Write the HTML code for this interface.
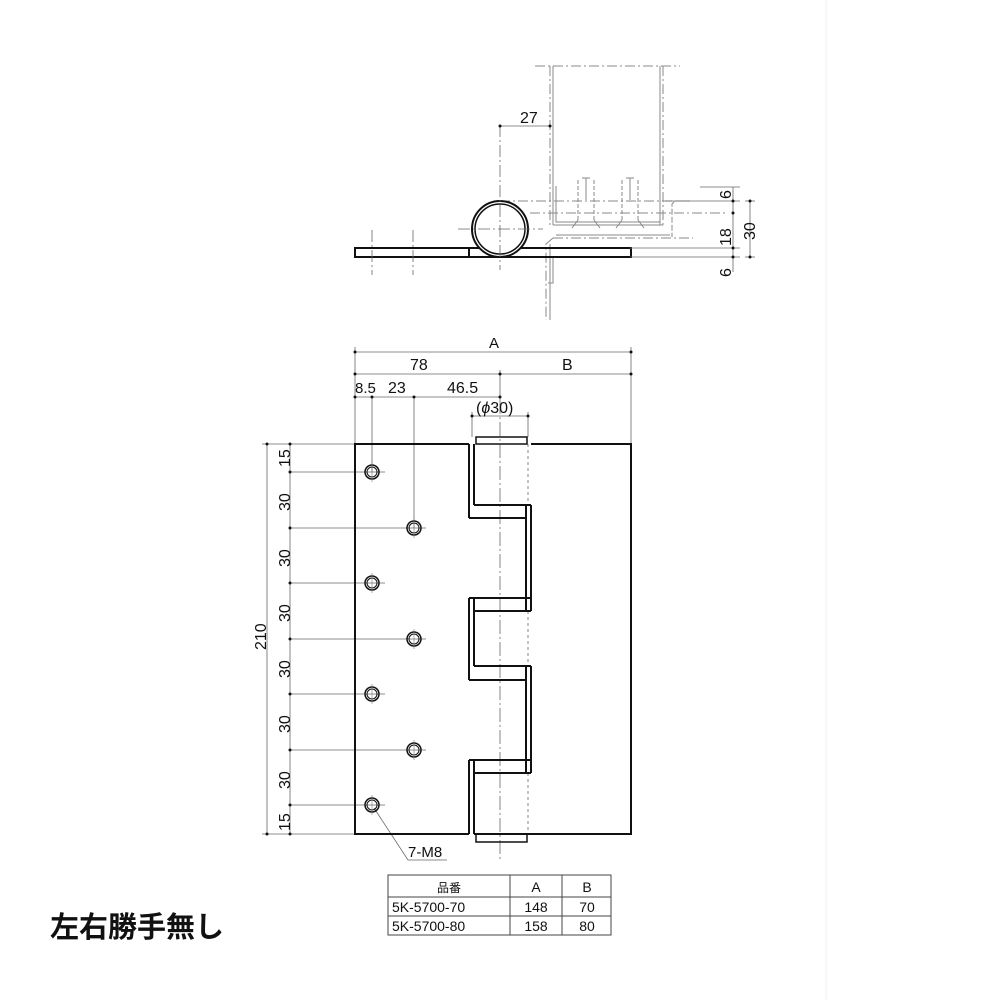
<!DOCTYPE html>
<html><head><meta charset="utf-8"><style>
html,body{margin:0;padding:0;background:#fff;}
svg{display:block;}
text{font-family:"Liberation Sans","Noto Sans CJK JP",sans-serif;fill:#111;}
</style></head><body>
<svg width="1000" height="1000" viewBox="0 0 1000 1000" xmlns="http://www.w3.org/2000/svg">
<rect width="1000" height="1000" fill="#fff"/>
<line x1="826" y1="0" x2="826" y2="1000" stroke="#f2f2f2" stroke-width="1"/>

<g fill="none" stroke="#888" stroke-width="1">
  <line x1="535" y1="66" x2="680" y2="66" stroke-dasharray="10,3,2,3"/>
  <line x1="550" y1="66" x2="550" y2="225" stroke-dasharray="10,3,2,3"/>
  <line x1="553" y1="66" x2="553" y2="225"/>
  <line x1="660" y1="66" x2="660" y2="225"/>
  <line x1="663" y1="66" x2="663" y2="225" stroke-dasharray="10,3,2,3"/>
  <path d="M553 225 L663 225"/>
  <path d="M556 186 L556 222 L660 222 L660 186" />
  <path d="M578 180 L578 220 M594 180 L594 220 M622 180 L622 220 M638 180 L638 220" stroke-dasharray="4,2"/>
  <path d="M582 178 L590 178 M586 178 L586 200 M626 178 L634 178 M630 178 L630 200"/>
  <path d="M578 220 L572 228 M594 220 L600 228 M622 220 L616 228 M638 220 L644 228"/>
  <line x1="500" y1="201" x2="690" y2="201" stroke-dasharray="10,3,2,3"/>
  <line x1="530" y1="213" x2="725" y2="213" stroke-dasharray="10,3,2,3"/>
  <path d="M690 201 L675 201 L672 204 L672 237" stroke-dasharray="6,2"/>
  <path d="M556 235 L670 235" />
  <path d="M553 238 L693 238" stroke-dasharray="10,3,2,3"/>
  <path d="M553 238 L546 244 L546 320" stroke-dasharray="10,3,2,3"/>
  <path d="M550 244 L550 320"/>
  <path d="M553 257 L553 283 L548 283"/>
</g>
<rect x="355" y="248" width="276" height="9" fill="none" stroke="#111" stroke-width="2"/>
<line x1="469" y1="248" x2="469" y2="257" stroke="#111" stroke-width="2"/>
<circle cx="500" cy="229" r="28" fill="#fff" stroke="#111" stroke-width="2"/>
<circle cx="500" cy="229" r="25" fill="none" stroke="#111" stroke-width="1.5"/>
<g stroke="#666" stroke-width="0.8" fill="none">
  <line x1="500" y1="125" x2="500" y2="270" stroke-dasharray="12,3,2,3"/>
  <line x1="458" y1="229" x2="543" y2="229" stroke-dasharray="12,3,2,3"/>
  <line x1="372" y1="230" x2="372" y2="275" stroke-dasharray="12,3,2,3"/>
  <line x1="413" y1="230" x2="413" y2="275" stroke-dasharray="12,3,2,3"/>
  <line x1="500" y1="126" x2="550" y2="126"/>
  <line x1="665" y1="201" x2="740" y2="201"/>
  <line x1="630" y1="248" x2="740" y2="248"/>
  <line x1="630" y1="257" x2="740" y2="257"/>
  <line x1="700" y1="187" x2="740" y2="187"/>
  <line x1="733" y1="187" x2="733" y2="272"/>
  <line x1="750" y1="201" x2="750" y2="257"/>
  <line x1="745" y1="201" x2="755" y2="201"/>
  <line x1="745" y1="257" x2="755" y2="257"/>
</g>
<g fill="#111">
  <circle cx="500" cy="126" r="1.5"/><circle cx="550" cy="126" r="1.5"/>
  <circle cx="733" cy="201" r="1.5"/><circle cx="733" cy="213" r="1.5"/>
  <circle cx="733" cy="248" r="1.5"/><circle cx="733" cy="257" r="1.5"/>
  <circle cx="750" cy="201" r="1.5"/><circle cx="750" cy="257" r="1.5"/>
</g>
<text x="520" y="123" font-size="16">27</text>
<text transform="translate(731,199) rotate(-90)" font-size="16">6</text>
<text transform="translate(731,246) rotate(-90)" font-size="16">18</text>
<text transform="translate(731,277) rotate(-90)" font-size="16">6</text>
<text transform="translate(755,240) rotate(-90)" font-size="16">30</text>

<g stroke="#666" stroke-width="0.8" fill="none">
  <line x1="355" y1="352" x2="631" y2="352"/>
  <line x1="355" y1="374" x2="631" y2="374"/>
  <line x1="355" y1="397" x2="500" y2="397"/>
  <line x1="472" y1="416" x2="528" y2="416"/>
  <line x1="355" y1="347" x2="355" y2="444"/>
  <line x1="631" y1="347" x2="631" y2="444"/>
  <line x1="500" y1="370" x2="500" y2="400"/>
  <line x1="372" y1="397" x2="372" y2="472"/>
  <line x1="414" y1="397" x2="414" y2="528"/>
  <line x1="472" y1="412" x2="472" y2="437"/>
  <line x1="528" y1="412" x2="528" y2="437"/>
  <line x1="267" y1="444" x2="267" y2="834"/>
  <line x1="290" y1="444" x2="290" y2="834"/>
  <line x1="262" y1="444" x2="355" y2="444"/>
  <line x1="262" y1="834" x2="355" y2="834"/>
  <line x1="290" y1="472" x2="385" y2="472"/>
  <line x1="290" y1="528" x2="426" y2="528"/>
  <line x1="290" y1="583" x2="385" y2="583"/>
  <line x1="290" y1="639" x2="426" y2="639"/>
  <line x1="290" y1="694" x2="385" y2="694"/>
  <line x1="290" y1="750" x2="426" y2="750"/>
  <line x1="290" y1="805" x2="385" y2="805"/>
  <line x1="500" y1="400" x2="500" y2="860" stroke-dasharray="14,3,2,3"/>
  <line x1="528" y1="444" x2="528" y2="505" stroke-dasharray="3,3"/>
  <line x1="528" y1="773" x2="528" y2="834" stroke-dasharray="3,3"/>
  <line x1="528" y1="611" x2="528" y2="666" stroke-dasharray="3,3"/>
  <path d="M374 808 L408 860 L447 860"/>
</g>
<g fill="#111">
  <circle cx="355" cy="352" r="1.5"/><circle cx="631" cy="352" r="1.5"/>
  <circle cx="355" cy="374" r="1.5"/><circle cx="500" cy="374" r="1.5"/><circle cx="631" cy="374" r="1.5"/>
  <circle cx="355" cy="397" r="1.5"/><circle cx="372" cy="397" r="1.5"/><circle cx="414" cy="397" r="1.5"/><circle cx="500" cy="397" r="1.5"/>
  <circle cx="472" cy="416" r="1.5"/><circle cx="528" cy="416" r="1.5"/>
  <circle cx="267" cy="444" r="1.5"/><circle cx="267" cy="834" r="1.5"/>
  <circle cx="290" cy="444" r="1.5"/><circle cx="290" cy="472" r="1.5"/><circle cx="290" cy="528" r="1.5"/><circle cx="290" cy="583" r="1.5"/><circle cx="290" cy="639" r="1.5"/><circle cx="290" cy="694" r="1.5"/><circle cx="290" cy="750" r="1.5"/><circle cx="290" cy="805" r="1.5"/><circle cx="290" cy="834" r="1.5"/>
</g>
<text x="489" y="348" font-size="15">A</text>
<text x="410" y="370" font-size="16">78</text>
<text x="562" y="370" font-size="16">B</text>
<text x="355" y="393" font-size="15">8.5</text>
<text x="388" y="393" font-size="16">23</text>
<text x="447" y="393" font-size="16">46.5</text>
<text x="476" y="413" font-size="16">(<tspan font-style="italic">ϕ</tspan>30)</text>
<text transform="translate(266,650) rotate(-90)" font-size="16">210</text>
<g font-size="16">
  <text transform="translate(290,467) rotate(-90)">15</text>
  <text transform="translate(290,511) rotate(-90)">30</text>
  <text transform="translate(290,567) rotate(-90)">30</text>
  <text transform="translate(290,622) rotate(-90)">30</text>
  <text transform="translate(290,678) rotate(-90)">30</text>
  <text transform="translate(290,733) rotate(-90)">30</text>
  <text transform="translate(290,789) rotate(-90)">30</text>
  <text transform="translate(290,831) rotate(-90)">15</text>
</g>
<text x="408" y="857" font-size="15">7-M8</text>

<g fill="none" stroke="#111" stroke-width="2">
  <rect x="476" y="437" width="51" height="7" stroke-width="1.5"/>
  <rect x="476" y="834" width="51" height="8" stroke-width="1.5"/>
  <polyline points="469,444 355,444 355,834 469,834"/>
  <polyline points="531,444 631,444 631,834 474,834"/>
  <line x1="469" y1="444" x2="469" y2="518"/>
  <line x1="474" y1="444" x2="474" y2="505"/>
  <line x1="474" y1="505" x2="531" y2="505"/>
  <line x1="469" y1="518" x2="526" y2="518"/>
  <line x1="526" y1="505" x2="526" y2="611"/>
  <line x1="531" y1="505" x2="531" y2="611"/>
  <line x1="469" y1="598" x2="531" y2="598"/>
  <line x1="474" y1="611" x2="531" y2="611"/>
  <line x1="469" y1="598" x2="469" y2="680"/>
  <line x1="474" y1="598" x2="474" y2="666"/>
  <line x1="474" y1="666" x2="531" y2="666"/>
  <line x1="469" y1="680" x2="526" y2="680"/>
  <line x1="526" y1="666" x2="526" y2="773"/>
  <line x1="531" y1="666" x2="531" y2="773"/>
  <line x1="469" y1="760" x2="531" y2="760"/>
  <line x1="474" y1="773" x2="531" y2="773"/>
  <line x1="469" y1="760" x2="469" y2="834"/>
  <line x1="474" y1="760" x2="474" y2="834"/>
</g>
<g fill="none" stroke="#111">
  <circle cx="372" cy="472" r="7" stroke-width="1.5"/><circle cx="372" cy="472" r="5" stroke-width="1"/>
  <circle cx="414" cy="528" r="7" stroke-width="1.5"/><circle cx="414" cy="528" r="5" stroke-width="1"/>
  <circle cx="372" cy="583" r="7" stroke-width="1.5"/><circle cx="372" cy="583" r="5" stroke-width="1"/>
  <circle cx="414" cy="639" r="7" stroke-width="1.5"/><circle cx="414" cy="639" r="5" stroke-width="1"/>
  <circle cx="372" cy="694" r="7" stroke-width="1.5"/><circle cx="372" cy="694" r="5" stroke-width="1"/>
  <circle cx="414" cy="750" r="7" stroke-width="1.5"/><circle cx="414" cy="750" r="5" stroke-width="1"/>
  <circle cx="372" cy="805" r="7" stroke-width="1.5"/><circle cx="372" cy="805" r="5" stroke-width="1"/>
</g>
<g stroke="#777" stroke-width="0.6">
  <line x1="372" y1="462" x2="372" y2="482"/><line x1="414" y1="518" x2="414" y2="538"/>
  <line x1="372" y1="573" x2="372" y2="593"/><line x1="414" y1="629" x2="414" y2="649"/>
  <line x1="372" y1="684" x2="372" y2="704"/><line x1="414" y1="740" x2="414" y2="760"/>
  <line x1="372" y1="795" x2="372" y2="815"/>
</g>

<g fill="none" stroke="#444" stroke-width="1">
  <rect x="388" y="875" width="223" height="60"/>
  <line x1="388" y1="897" x2="611" y2="897"/>
  <line x1="388" y1="916" x2="611" y2="916"/>
  <line x1="510" y1="875" x2="510" y2="935"/>
  <line x1="562" y1="875" x2="562" y2="935"/>
</g>
<g font-size="14">
  <text x="449" y="892" text-anchor="middle" font-size="12">品番</text>
  <text x="536" y="892" text-anchor="middle">A</text>
  <text x="587" y="892" text-anchor="middle">B</text>
  <text x="392" y="912">5K-5700-70</text>
  <text x="536" y="912" text-anchor="middle">148</text>
  <text x="587" y="912" text-anchor="middle">70</text>
  <text x="392" y="931">5K-5700-80</text>
  <text x="536" y="931" text-anchor="middle">158</text>
  <text x="587" y="931" text-anchor="middle">80</text>
</g>

<text x="50" y="937" font-size="29" font-weight="bold" style="font-family:'Noto Sans CJK JP',sans-serif">左右勝手無し</text>
</svg>
</body></html>
